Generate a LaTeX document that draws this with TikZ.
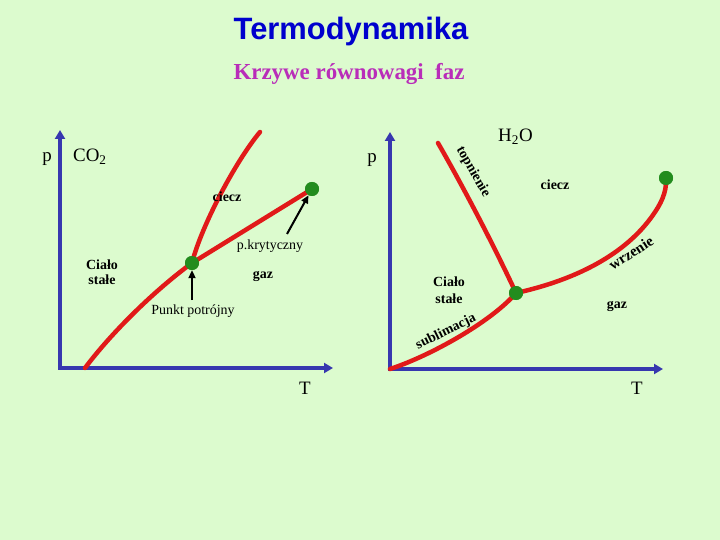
\documentclass[tikz,border=0pt]{standalone}
\usepackage{fontspec}
\setmainfont{Liberation Serif}
\newfontfamily\titlefont{Liberation Sans}
\usetikzlibrary{arrows.meta}
\definecolor{bg}{RGB}{220,251,206}
\definecolor{axisblue}{RGB}{55,55,175}
\definecolor{curvered}{RGB}{225,25,25}
\definecolor{dotgreen}{RGB}{35,140,30}
\definecolor{titleblue}{RGB}{0,0,205}
\definecolor{submagenta}{RGB}{185,45,185}
\begin{document}
\begin{tikzpicture}[x=1bp,y=-1bp,
  axis/.style={draw=axisblue,line width=3.5bp,line join=miter,
    {Triangle[length=9bp,width=10bp]}-{Triangle[length=9bp,width=10bp]}},
  curve/.style={draw=curvered,line width=4.5bp,line cap=round,line join=round},
  dot/.style={circle,fill=dotgreen,minimum size=14bp,inner sep=0pt},
  pointer/.style={draw=black,line width=2bp,-{Triangle[length=8bp,width=7bp]}},
  lab/.style={font=\fontsize{14}{15}\selectfont\bfseries,inner sep=0pt},
  note/.style={font=\fontsize{14}{15}\selectfont,inner sep=0pt},
  big/.style={font=\fontsize{19}{22}\selectfont,inner sep=0pt}]
\fill[bg] (0,0) rectangle (720,540);
\useasboundingbox (0,0) rectangle (720,540);

% titles
\node[anchor=base,inner sep=0pt,text=titleblue,font=\titlefont\bfseries\fontsize{31}{36}\selectfont] (title) at (351,40) {Termodynamika};
\node[anchor=base,inner sep=0pt,text=submagenta,font=\bfseries\fontsize{23}{26}\selectfont] (subtitle) at (349,80) {Krzywe równowagi\ \ faz};

% ---------- left diagram (CO2)
\coordinate (Y1) at (60,130);
\coordinate (O1) at (60,368);
\coordinate (X1) at (333,368);
\coordinate (S1) at (85,368);
\coordinate (M1) at (260,132);
\node[dot] (tp1) at (192,263) {};
\node[dot] (cp1) at (312,189) {};
\draw[axis] (Y1) -- (O1) -- (X1);
\draw[curve] (S1) .. controls (112,332) and (155,290) .. (tp1.center);
\draw[curve] (tp1.center) .. controls (201,227) and (235,162) .. (M1);
\draw[curve] (tp1.center) -- (cp1.center);
\node[dot] at (tp1) {};
\node[dot] at (cp1) {};

\coordinate (pkTail) at (287,234);
\coordinate (ppTail) at (192,300);
\draw[pointer] (pkTail) -- (cp1);
\draw[pointer] (ppTail) -- (tp1);

\node[big,anchor=base] (p1) at (47,162) {p};
\node[big,anchor=base west] (co2) at (73,162) {CO\textsubscript{2}};
\node[lab,anchor=base] (ciecz1) at (227,202) {ciecz};
\node[note,anchor=base] (pk) at (270,250) {p.krytyczny};
\node[lab,align=center] (stale1) at (102,272) {Ciało\\stałe};
\node[lab,anchor=base] (gaz1) at (263,279) {gaz};
\node[note,anchor=base] (pp) at (193,314) {Punkt potrójny};
\node[big,anchor=base] (T1) at (305,394) {T};

% ---------- right diagram (H2O)
\coordinate (Y2) at (390,132);
\coordinate (O2) at (390,369);
\coordinate (X2) at (663,369);
\coordinate (M2) at (438,143);
\coordinate (B2) at (653,215);
\node[dot] (tp2) at (516,293) {};
\node[dot] (cp2) at (666,178) {};
\draw[axis] (Y2) -- (O2) -- (X2);
\draw[curve] (O2) .. controls (430,356) and (491,322) .. (tp2.center);
\draw[curve] (tp2.center) .. controls (495,248) and (465,190) .. (M2);
\draw[curve] (tp2.center) .. controls (575,280) and (625,255) .. (B2)
  .. controls (660,205) and (667,193) .. (cp2.center);
\node[dot] at (tp2) {};
\node[dot] at (cp2) {};

\node[big,anchor=base] (p2) at (372,163) {p};
\node[big,anchor=base west] (h2o) at (498,142) {H\textsubscript{2}O};
\node[lab,anchor=base] (ciecz2) at (555,190) {ciecz};
\node[lab,rotate=-60] (topn) at (473,172) {topnienie};
\node[lab,rotate=33,font=\fontsize{15}{16}\selectfont\bfseries] (wrz) at (631,253) {wrzenie};
\node[lab,align=center,font=\fontsize{14}{17}\selectfont\bfseries] (stale2) at (449,290) {Ciało\\stałe};
\node[lab,anchor=base] (gaz2) at (617,308) {gaz};
\node[lab,rotate=26] (subl) at (446,332) {sublimacja};
\node[big,anchor=base] (T2) at (637,394) {T};
\end{tikzpicture}
\end{document}
